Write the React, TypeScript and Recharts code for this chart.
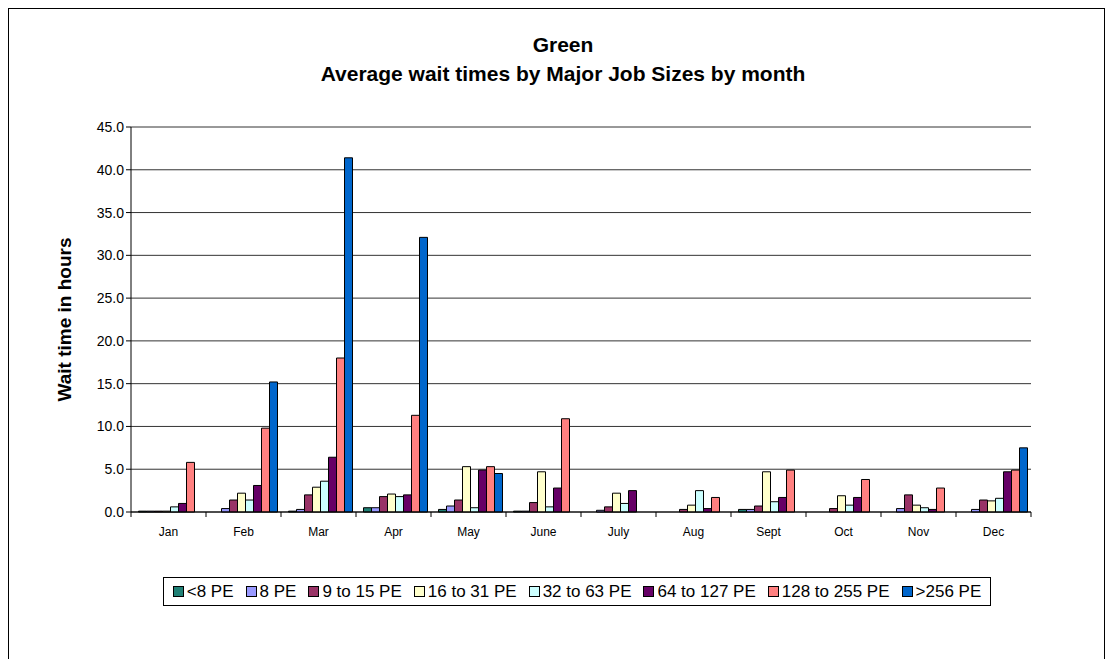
import { Bar, BarChart, CartesianGrid, XAxis, YAxis } from "recharts";

// Average wait times (hours) per month, one array per job-size band.
const MONTHS = ["Jan", "Feb", "Mar", "Apr", "May", "June", "July", "Aug", "Sept", "Oct", "Nov", "Dec"];

const PE_LT8 = [0.1, null, 0.1, 0.5, 0.3, 0.1, null, null, 0.3, null, null, null];
const PE_8 = [0.1, 0.4, 0.3, 0.5, 0.7, 0.1, 0.2, null, 0.3, null, 0.4, 0.3];
const PE_9_15 = [0.1, 1.4, 2.0, 1.8, 1.4, 1.1, 0.6, 0.3, 0.7, 0.4, 2.0, 1.4];
const PE_16_31 = [0.1, 2.2, 2.9, 2.1, 5.3, 4.7, 2.2, 0.8, 4.7, 1.9, 0.8, 1.3];
const PE_32_63 = [0.6, 1.4, 3.6, 1.8, 0.5, 0.6, 1.0, 2.5, 1.2, 0.8, 0.5, 1.6];
const PE_64_127 = [1.0, 3.1, 6.4, 2.0, 4.9, 2.8, 2.5, 0.4, 1.7, 1.7, 0.3, 4.7];
const PE_128_255 = [5.8, 9.8, 18.0, 11.3, 5.3, 10.9, null, 1.7, 4.9, 3.8, 2.8, 4.9];
const PE_GT256 = [null, 15.2, 41.4, 32.1, 4.5, null, null, null, null, null, null, 7.5];

const Y_TICKS = [0, 5, 10, 15, 20, 25, 30, 35, 40, 45];

const SERIES = [
  { key: "lt8", name: "<8 PE", values: PE_LT8, color: "#1f8075" },
  { key: "pe8", name: "8 PE", values: PE_8, color: "#9999ff" },
  { key: "pe9", name: "9 to 15 PE", values: PE_9_15, color: "#993366" },
  { key: "pe16", name: "16 to 31 PE", values: PE_16_31, color: "#ffffcc" },
  { key: "pe32", name: "32 to 63 PE", values: PE_32_63, color: "#ccffff" },
  { key: "pe64", name: "64 to 127 PE", values: PE_64_127, color: "#660066" },
  { key: "pe128", name: "128 to 255 PE", values: PE_128_255, color: "#ff8080" },
  { key: "gt256", name: ">256 PE", values: PE_GT256, color: "#0066cc" },
];

const data = MONTHS.map((month, i) => {
  const row: Record<string, string | number | null> = { month };
  SERIES.forEach((s) => {
    row[s.key] = s.values[i];
  });
  return row;
});

const FONT = "'Liberation Sans', Arial, sans-serif";

// Excel puts the x tick marks between categories, not under them.
function MonthTick(props: any) {
  const { x, y, payload, width, visibleTicksCount, index } = props;
  const band = width / visibleTicksCount;
  const top = y - 8;
  return (
    <g>
      <line x1={x - band / 2} x2={x - band / 2} y1={top} y2={top + 5} stroke="#000" />
      {index === visibleTicksCount - 1 && (
        <line x1={x + band / 2} x2={x + band / 2} y1={top} y2={top + 5} stroke="#000" />
      )}
      <text x={x} y={y + 16} textAnchor="middle" fontSize={12} fill="#000" fontFamily={FONT}>
        {payload.value}
      </text>
    </g>
  );
}

export default function App() {
  return (
    <div
      style={{
        position: "absolute",
        left: 0,
        top: 0,
        width: 1110,
        height: 659,
        overflow: "hidden",
        background: "#fff",
        fontFamily: FONT,
      }}
    >
      <div
        style={{
          position: "absolute",
          left: 8,
          top: 8,
          width: 1095,
          height: 700,
          border: "1px solid #000",
        }}
      />
      <div
        style={{
          position: "absolute",
          left: 0,
          width: 1126,
          top: 30,
          textAlign: "center",
          fontWeight: "bold",
          fontSize: 21,
          lineHeight: "29px",
          color: "#000",
        }}
      >
        <div>Green</div>
        <div>Average wait times by Major Job Sizes by month</div>
      </div>

      <div style={{ position: "absolute", left: 0, top: 0 }}>
        <BarChart
          width={1110}
          height={659}
          data={data}
          margin={{ top: 127, right: 79, bottom: 117, left: 0 }}
          barCategoryGap="10%"
          barGap={0}
        >
          <CartesianGrid vertical={false} stroke="#333" />
          <XAxis
            dataKey="month"
            tick={<MonthTick />}
            tickLine={false}
            axisLine={{ stroke: "#000" }}
            interval={0}
            height={30}
          />
          <YAxis
            width={131}
            domain={[0, 45]}
            ticks={Y_TICKS}
            tickFormatter={(v: number) => v.toFixed(1)}
            tick={{ fill: "#000", fontSize: 14, fontFamily: FONT }}
            tickSize={5}
            axisLine={{ stroke: "#000" }}
            tickLine={{ stroke: "#000" }}
            label={{
              value: "Wait time in hours",
              angle: -90,
              position: "center",
              dx: -1,
              style: { fontWeight: "bold", fontSize: 19, fill: "#000", fontFamily: FONT },
            }}
          />
          {SERIES.map((s) => (
            <Bar
              key={s.key}
              dataKey={s.key}
              name={s.name}
              fill={s.color}
              stroke="#000"
              strokeWidth={1}
              isAnimationActive={false}
            />
          ))}
        </BarChart>
      </div>

      <div
        style={{
          position: "absolute",
          left: 163,
          top: 577,
          width: 826,
          height: 27,
          border: "1px solid #000",
          display: "flex",
          alignItems: "center",
          justifyContent: "center",
          gap: 12,
          fontSize: 17,
          color: "#000",
        }}
      >
        {SERIES.map((s) => (
          <div key={s.key} style={{ display: "flex", alignItems: "center", gap: 3 }}>
            <span
              style={{
                display: "inline-block",
                width: 9,
                height: 9,
                background: s.color,
                border: "1px solid #000",
              }}
            />
            <span>{s.name}</span>
          </div>
        ))}
      </div>
    </div>
  );
}
